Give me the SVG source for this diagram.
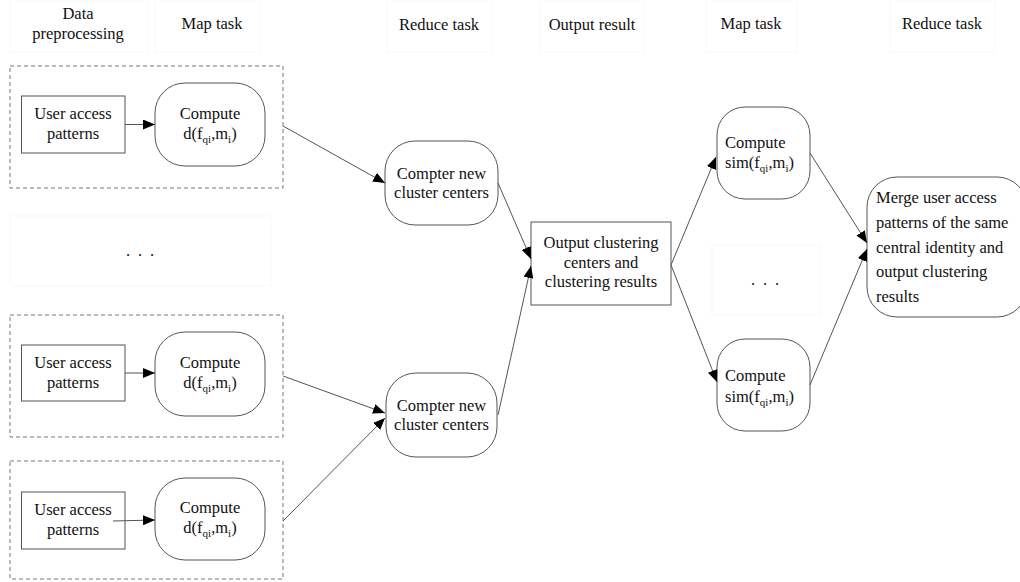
<svg xmlns="http://www.w3.org/2000/svg" width="1020" height="582" viewBox="0 0 1020 582">
<defs>
<marker id="ah" markerWidth="12" markerHeight="10" refX="12" refY="5" orient="auto" markerUnits="userSpaceOnUse">
<path d="M0,0 L12,5 L0,10 Z" fill="#000"/>
</marker>
<style>
text{font-family:"Liberation Serif","Times New Roman",serif;font-size:16.5px;fill:#111}
.c{text-anchor:middle}
.sub{font-size:11px}
.box{fill:#fff;stroke:#555;stroke-width:1}
.dash{fill:none;stroke:#777;stroke-width:1;stroke-dasharray:4 3}
.faint{fill:none;stroke:#f8f8f8;stroke-width:1}
.conn{stroke:#555;stroke-width:1;fill:none;marker-end:url(#ah)}
</style>
</defs>
<rect width="1020" height="582" fill="#fff"/>

<g id="headers">
<rect class="faint" x="10" y="0" width="138" height="52"/>
<text class="c" x="78" y="19">Data</text>
<text class="c" x="78" y="39">preprocessing</text>
<rect class="faint" x="155" y="0" width="105" height="52"/>
<text class="c" x="212" y="29">Map task</text>
<rect class="faint" x="387" y="0" width="105" height="52"/>
<text class="c" x="439" y="30">Reduce task</text>
<rect class="faint" x="540" y="0" width="104" height="52"/>
<text class="c" x="592" y="30">Output result</text>
<rect class="faint" x="706" y="0" width="91" height="52"/>
<text class="c" x="751" y="29">Map task</text>
<rect class="faint" x="890" y="0" width="105" height="52"/>
<text class="c" x="942" y="29">Reduce task</text>
</g>

<g id="group1">
<rect class="dash" x="10" y="66" width="273" height="122"/>
<g id="user1"><rect class="box" x="21.5" y="96" width="103.5" height="57"/>
<text class="c" x="73" y="119">User access</text><text class="c" x="73" y="139">patterns</text></g>
<g id="compute1"><rect class="box" x="155" y="83" width="110" height="83" rx="30" ry="30"/>
<text class="c" x="210" y="118.5">Compute</text>
<text class="c" x="210" y="138.5">d(f<tspan class="sub" dy="4">qi</tspan><tspan dy="-4">,m</tspan><tspan class="sub" dy="4">i</tspan><tspan dy="-4">)</tspan></text></g>
</g>

<g id="dots1">
<rect class="faint" x="10" y="216" width="261" height="70"/>
<text x="126 138 150" y="256">...</text>
</g>

<g id="group2">
<rect class="dash" x="10" y="315" width="273" height="122"/>
<g id="user2"><rect class="box" x="21.5" y="345" width="103.5" height="56"/>
<text class="c" x="73" y="368">User access</text><text class="c" x="73" y="388">patterns</text></g>
<g id="compute2"><rect class="box" x="155" y="332" width="110" height="84" rx="30" ry="30"/>
<text class="c" x="210" y="368">Compute</text>
<text class="c" x="210" y="388">d(f<tspan class="sub" dy="4">qi</tspan><tspan dy="-4">,m</tspan><tspan class="sub" dy="4">i</tspan><tspan dy="-4">)</tspan></text></g>
</g>

<g id="group3">
<rect class="dash" x="10" y="461" width="273" height="118"/>
<g id="user3"><rect class="box" x="21.5" y="492" width="103.5" height="57"/>
<text class="c" x="73" y="515">User access</text><text class="c" x="73" y="535">patterns</text></g>
<g id="compute3"><rect class="box" x="155" y="478" width="110" height="82" rx="30" ry="30"/>
<text class="c" x="210" y="513">Compute</text>
<text class="c" x="210" y="533">d(f<tspan class="sub" dy="4">qi</tspan><tspan dy="-4">,m</tspan><tspan class="sub" dy="4">i</tspan><tspan dy="-4">)</tspan></text></g>
</g>

<g id="reduce1"><rect class="box" x="385" y="141" width="113" height="84" rx="30" ry="30"/>
<text class="c" x="441.5" y="178.5">Compter new</text><text class="c" x="441.5" y="197.5">cluster centers</text></g>

<g id="reduce2"><rect class="box" x="386" y="373" width="111" height="84" rx="30" ry="30"/>
<text class="c" x="441.5" y="410.5">Compter new</text><text class="c" x="441.5" y="429.5">cluster centers</text></g>

<g id="output"><rect class="box" x="531" y="222" width="140" height="83"/>
<text class="c" x="601" y="248">Output clustering</text>
<text class="c" x="601" y="268">centers and</text>
<text class="c" x="601" y="287">clustering results</text></g>

<g id="sim1"><rect class="box" x="717" y="107" width="93" height="92" rx="28" ry="28"/>
<text x="725" y="148">Compute</text>
<text x="725" y="168">sim(f<tspan class="sub" dy="4">qi</tspan><tspan dy="-4">,m</tspan><tspan class="sub" dy="4">i</tspan><tspan dy="-4">)</tspan></text></g>

<g id="dots2">
<rect class="faint" x="712" y="245" width="108" height="70"/>
<text x="751 763 775" y="285">...</text>
</g>

<g id="sim2"><rect class="box" x="717" y="339" width="93" height="92" rx="28" ry="28"/>
<text x="725" y="381">Compute</text>
<text x="725" y="402">sim(f<tspan class="sub" dy="4">qi</tspan><tspan dy="-4">,m</tspan><tspan class="sub" dy="4">i</tspan><tspan dy="-4">)</tspan></text></g>

<g id="merge"><rect class="box" x="867" y="177" width="160" height="140" rx="30" ry="30"/>
<text x="876" y="203">Merge user access</text>
<text x="876" y="228">patterns of the same</text>
<text x="876" y="253">central identity and</text>
<text x="876" y="277">output clustering</text>
<text x="876" y="302">results</text></g>

<g id="connectors">
<line class="conn" x1="125" y1="124.5" x2="155" y2="124.5"/>
<line class="conn" x1="125" y1="373" x2="155" y2="373"/>
<line class="conn" x1="113" y1="521" x2="155" y2="520"/>
<line class="conn" x1="283" y1="126" x2="385" y2="183"/>
<line class="conn" x1="283" y1="376" x2="385" y2="413"/>
<line class="conn" x1="283" y1="521" x2="385" y2="418"/>
<line class="conn" x1="498" y1="183" x2="531" y2="259"/>
<line class="conn" x1="498" y1="415" x2="531" y2="266"/>
<line class="conn" x1="671" y1="265" x2="716" y2="157"/>
<line class="conn" x1="671" y1="265" x2="717" y2="382"/>
<line class="conn" x1="810" y1="153" x2="867" y2="243"/>
<line class="conn" x1="810" y1="385" x2="867" y2="249"/>
</g>
</svg>
